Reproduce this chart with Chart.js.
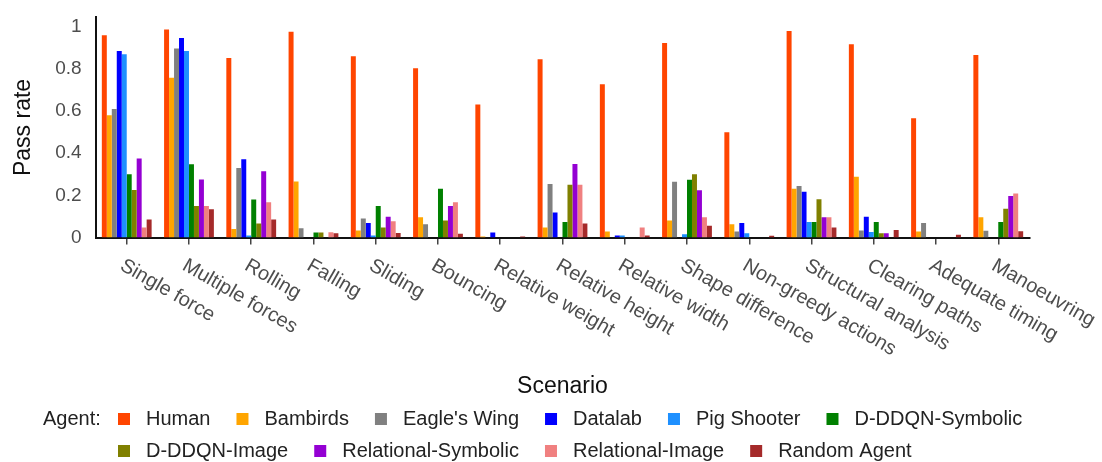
<!DOCTYPE html>
<html>
<head>
<meta charset="utf-8">
<script src="https://cdn.jsdelivr.net/npm/chart.js@4/dist/chart.umd.min.js"></script>
<style>
  html, body { margin: 0; padding: 0; background: #fff; }
  #chart { display: block; }
</style>
</head>
<body>
<canvas id="chart" width="1102" height="462"></canvas>
<script>
const scenarios = ["Single force", "Multiple forces", "Rolling", "Falling", "Sliding", "Bouncing",
    "Relative weight", "Relative height", "Relative width", "Shape difference", "Non-greedy actions",
    "Structural analysis", "Clearing paths", "Adequate timing", "Manoeuvring"];

const agents = ["Human", "Bambirds", "Eagle's Wing", "Datalab", "Pig Shooter", "D-DDQN-Symbolic",
    "D-DDQN-Image", "Relational-Symbolic", "Relational-Image", "Random Agent"];

const human = [0.96, 0.987, 0.852, 0.977, 0.861, 0.804, 0.631, 0.846, 0.728, 0.924, 0.50, 0.981, 0.917, 0.566, 0.867];
const bambirds = [0.58, 0.758, 0.04, 0.266, 0.033, 0.096, 0.005, 0.048, 0.029, 0.081, 0.063, 0.232, 0.289, 0.029, 0.096];
const eaglesWing = [0.61, 0.897, 0.33, 0.044, 0.09, 0.063, 0, 0.254, 0, 0.265, 0.029, 0.244, 0.033, 0.069, 0.032];
const datalab = [0.886, 0.947, 0.372, 0, 0.069, 0, 0.024, 0.119, 0.01, 0, 0.069, 0.217, 0.099, 0, 0];
const pigShooter = [0.87, 0.886, 0.01, 0, 0.01, 0, 0, 0, 0.01, 0.015, 0.02, 0.074, 0.026, 0, 0];
const ddqnSymbolic = [0.30, 0.348, 0.18, 0.024, 0.149, 0.232, 0, 0.074, 0, 0.274, 0, 0.074, 0.074, 0, 0.074];
const ddqnImage = [0.225, 0.149, 0.066, 0.024, 0.047, 0.081, 0, 0.25, 0, 0.30, 0, 0.182, 0.02, 0, 0.137];
const relSymbolic = [0.375, 0.275, 0.315, 0, 0.099, 0.149, 0, 0.349, 0, 0.224, 0, 0.096, 0.02, 0, 0.197];
const relImage = [0.047, 0.149, 0.167, 0.025, 0.077, 0.167, 0, 0.25, 0.048, 0.096, 0, 0.096, 0, 0, 0.209];
const randomAgent = [0.086, 0.134, 0.085, 0.02, 0.021, 0.018, 0.005, 0.067, 0.01, 0.056, 0.008, 0.047, 0.036, 0.013, 0.03];

const series = [human, bambirds, eaglesWing, datalab, pigShooter, ddqnSymbolic, ddqnImage, relSymbolic, relImage, randomAgent];
const colors = ["#ff4500", "#ffa500", "#808080", "#0000ff", "#1e90ff", "#008000", "#808000", "#9400d3", "#f08080", "#a52a2a"];

const yTicks = [0, 0.2, 0.4, 0.6, 0.8, 1];
const yTitle = "Pass rate";
const xTitle = "Scenario";
const legendTitle = "Agent:";

const FONT = "'Liberation Sans', Arial, sans-serif";

// draws the slanted category labels, the x title and the inline legend
const extrasPlugin = {
    id: "extras",
    afterDraw(chart) {
        const ctx = chart.ctx;
        const xs = chart.scales.x;
        const area = chart.chartArea;

        ctx.save();
        ctx.fillStyle = "#4d4d4d";
        ctx.font = "20px " + FONT;
        ctx.textAlign = "left";
        ctx.textBaseline = "top";
        chart.data.labels.forEach((label, i) => {
            const x = xs.getPixelForTick(i);
            ctx.save();
            ctx.translate(x, area.bottom + 18);
            ctx.rotate(Math.PI / 6);
            ctx.fillText(label, 0, 0);
            ctx.restore();
        });

        ctx.fillStyle = "#111";
        ctx.font = "23px " + FONT;
        ctx.textAlign = "center";
        ctx.textBaseline = "middle";
        ctx.fillText(xTitle, (area.left + area.right) / 2, 387);

        // legend
        ctx.font = "20px " + FONT;
        ctx.textAlign = "left";
        ctx.fillStyle = "#222";
        const rowY = [419, 451];
        ctx.fillText(legendTitle, 43, rowY[0]);
        const startX = 118;
        let x = startX;
        let row = 0;
        chart.data.datasets.forEach((ds) => {
            const w = ctx.measureText(ds.label).width;
            if (x + 28 + w > 1060) {
                row++;
                x = startX;
            }
            const y = rowY[row];
            ctx.fillStyle = ds.backgroundColor;
            ctx.fillRect(x, y - 6, 12, 12);
            ctx.fillStyle = "#222";
            ctx.fillText(ds.label, x + 28, y);
            x += 28 + w + 26;
        });
        ctx.restore();
    },
};

new Chart(document.getElementById("chart"), {
    type: "bar",
    data: {
        labels: scenarios,
        datasets: agents.map((name, i) => ({
            label: name,
            data: series[i],
            backgroundColor: colors[i],
            borderWidth: 0,
            barPercentage: 1,
            categoryPercentage: 0.8,
        })),
    },
    options: {
        responsive: false,
        animation: false,
        devicePixelRatio: 1,
        layout: { padding: { top: 8, right: 72.6, left: 0, bottom: 0 } },
        plugins: {
            legend: { display: false },
            tooltip: { enabled: false },
        },
        scales: {
            x: {
                grid: {
                    display: true,
                    offset: false,
                    drawOnChartArea: false,
                    drawTicks: true,
                    tickLength: 7,
                    color: "#444",
                    lineWidth: 1.5,
                },
                border: { display: true, color: "#111", width: 2 },
                ticks: { display: false },
                afterFit(scale) {
                    scale.height = 224.5;
                },
            },
            y: {
                min: 0,
                max: 1.045,
                grid: { display: false },
                border: { display: true, color: "#111", width: 2 },
                afterBuildTicks(scale) {
                    scale.ticks = yTicks.map((v) => ({ value: v }));
                },
                ticks: {
                    color: "#4d4d4d",
                    font: { family: FONT, size: 19 },
                    padding: 6,
                    callback: (v) => String(v),
                },
                title: {
                    display: true,
                    text: yTitle,
                    color: "#111",
                    font: { family: FONT, size: 23 },
                    padding: { top: 10, bottom: 0 },
                },
                afterFit(scale) {
                    scale.width = 95.6;
                },
            },
        },
    },
    plugins: [extrasPlugin],
});
</script>
</body>
</html>
